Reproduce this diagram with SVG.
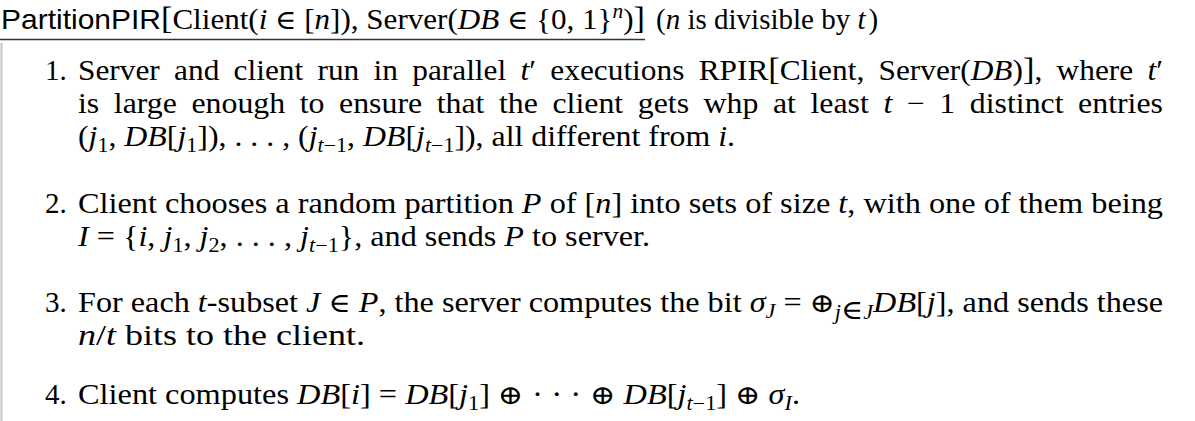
<svg xmlns="http://www.w3.org/2000/svg" width="1195" height="421" viewBox="0 0 1195 421">
<style>
text{font-family:"Liberation Serif","Times New Roman",serif;font-size:29px;fill:#000}
.sf{font-family:"Liberation Sans",Arial,sans-serif;font-size:28px}
.it{font-style:italic}
.sym{font-family:"DejaVu Serif","Liberation Serif",serif;font-size:27px}
.big{font-size:32px}
.sub{font-size:20px}
</style>
<rect x="0" y="0" width="1195" height="421" fill="#fff"/>
<g id="frame">
<line x1="1.5" y1="43" x2="1.5" y2="421" stroke="#c4c4c4" stroke-width="2"/>
<line x1="0" y1="39.5" x2="645" y2="39.5" stroke="#333" stroke-width="1.3"/>
</g>
<g id="title">
<text x="1" y="29" textLength="644" lengthAdjust="spacingAndGlyphs"><tspan class="sf">PartitionPIR</tspan><tspan class="big">[</tspan>Client(<tspan class="it">i</tspan> <tspan class="sym">∈</tspan> [<tspan class="it">n</tspan>]), Server(<tspan class="it">DB</tspan> <tspan class="sym">∈</tspan> {0, 1}<tspan class="it sub" dy="-11">n</tspan><tspan dy="11">)</tspan><tspan class="big">]</tspan></text>
<text x="656" y="29" font-size="26px">(<tspan class="it">n</tspan> is divisible by <tspan class="it">t</tspan><tspan dx="3">)</tspan></text>
</g>
<g id="item1">
<text x="45" y="80">1.</text>
<text x="78" y="80" textLength="1085" lengthAdjust="spacingAndGlyphs" word-spacing="6">Server and client run in parallel <tspan class="it">t</tspan>′ executions RPIR<tspan class="big">[</tspan>Client, Server(<tspan class="it">DB</tspan>)<tspan class="big">]</tspan>, where <tspan class="it">t</tspan>′</text>
<text x="78" y="113" textLength="1085" lengthAdjust="spacingAndGlyphs" word-spacing="6">is large enough to ensure that the client gets whp at least <tspan class="it">t</tspan> − 1 distinct entries</text>
<text x="78" y="146" textLength="657" lengthAdjust="spacingAndGlyphs">(<tspan class="it">j</tspan><tspan class="sub" dy="6">1</tspan><tspan dy="-6">, </tspan><tspan class="it">DB</tspan>[<tspan class="it">j</tspan><tspan class="sub" dy="6">1</tspan><tspan dy="-6">]), . . . , (</tspan><tspan class="it">j</tspan><tspan class="sub" dy="6"><tspan class="it">t</tspan>−1</tspan><tspan dy="-6">, </tspan><tspan class="it">DB</tspan>[<tspan class="it">j</tspan><tspan class="sub" dy="6"><tspan class="it">t</tspan>−1</tspan><tspan dy="-6">]), all different from </tspan><tspan class="it">i</tspan>.</text>
</g>
<g id="item2">
<text x="45" y="213">2.</text>
<text x="78" y="213" textLength="1085" lengthAdjust="spacingAndGlyphs">Client chooses a random partition <tspan class="it">P</tspan> of [<tspan class="it">n</tspan>] into sets of size <tspan class="it">t</tspan>, with one of them being</text>
<text x="78" y="246" textLength="572" lengthAdjust="spacingAndGlyphs"><tspan class="it">I</tspan> = {<tspan class="it">i</tspan>, <tspan class="it">j</tspan><tspan class="sub" dy="6">1</tspan><tspan dy="-6">, </tspan><tspan class="it">j</tspan><tspan class="sub" dy="6">2</tspan><tspan dy="-6">, . . . , </tspan><tspan class="it">j</tspan><tspan class="sub" dy="6"><tspan class="it">t</tspan>−1</tspan><tspan dy="-6">}, and sends </tspan><tspan class="it">P</tspan> to server.</text>
</g>
<g id="item3">
<text x="45" y="312">3.</text>
<text x="78" y="312" textLength="1085" lengthAdjust="spacingAndGlyphs">For each <tspan class="it">t</tspan>-subset <tspan class="it">J</tspan> <tspan class="sym">∈</tspan> <tspan class="it">P</tspan>, the server computes the bit <tspan class="it">σ</tspan><tspan class="sub it" dy="6">J</tspan><tspan dy="-6"> = </tspan><tspan class="sym">⊕</tspan><tspan class="sub it" dy="7">j</tspan><tspan class="sym" font-size="18px">∈</tspan><tspan class="sub it">J</tspan><tspan class="it" dy="-7">DB</tspan>[<tspan class="it">j</tspan>], and sends these</text>
<text x="78" y="345" textLength="287" lengthAdjust="spacingAndGlyphs"><tspan class="it">n</tspan>/<tspan class="it">t</tspan> bits to the client.</text>
</g>
<g id="item4">
<text x="45" y="404">4.</text>
<text x="78" y="404" textLength="722" lengthAdjust="spacingAndGlyphs">Client computes <tspan class="it">DB</tspan>[<tspan class="it">i</tspan>] = <tspan class="it">DB</tspan>[<tspan class="it">j</tspan><tspan class="sub" dy="6">1</tspan><tspan dy="-6">] </tspan><tspan class="sym">⊕ · · · ⊕</tspan> <tspan class="it">DB</tspan>[<tspan class="it">j</tspan><tspan class="sub" dy="6"><tspan class="it">t</tspan>−1</tspan><tspan dy="-6">] </tspan><tspan class="sym">⊕</tspan> <tspan class="it">σ</tspan><tspan class="sub it" dy="6">I</tspan><tspan dy="-6">.</tspan></text>
</g>
<g id="connectors"></g>
</svg>
